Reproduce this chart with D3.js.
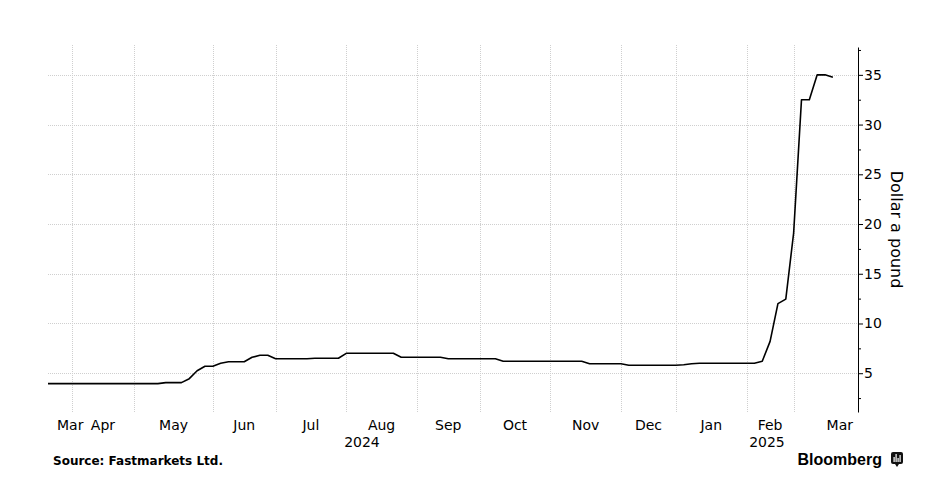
<!DOCTYPE html>
<html>
<head>
<meta charset="utf-8">
<title>Dollar a pound</title>
<style>
  body { margin: 0; background: #fff; }
  svg text { font-family: "DejaVu Sans", sans-serif; fill: #000; }
</style>
</head>
<body>
<script src="https://d3js.org/d3.v7.min.js"></script>
<script>
// price assessments (twice a week), Mar 2024 - Mar 2025
var dates = [
  "2024-03-20","2024-03-22","2024-03-27",
  "2024-04-03","2024-04-05","2024-04-10","2024-04-12","2024-04-17","2024-04-19","2024-04-24","2024-04-26",
  "2024-05-01","2024-05-03","2024-05-08","2024-05-10","2024-05-15","2024-05-17","2024-05-22","2024-05-24","2024-05-29","2024-05-31",
  "2024-06-05","2024-06-07","2024-06-12","2024-06-14","2024-06-19","2024-06-21","2024-06-26","2024-06-28",
  "2024-07-03","2024-07-05","2024-07-10","2024-07-12","2024-07-17","2024-07-19","2024-07-24","2024-07-26","2024-07-31",
  "2024-08-02","2024-08-07","2024-08-09","2024-08-14","2024-08-16","2024-08-21","2024-08-23","2024-08-28","2024-08-30",
  "2024-09-04","2024-09-06","2024-09-11","2024-09-13","2024-09-18","2024-09-20","2024-09-25","2024-09-27",
  "2024-10-02","2024-10-04","2024-10-09","2024-10-11","2024-10-16","2024-10-18","2024-10-23","2024-10-25","2024-10-30",
  "2024-11-01","2024-11-06","2024-11-08","2024-11-13","2024-11-15","2024-11-20","2024-11-22","2024-11-27","2024-11-29",
  "2024-12-04","2024-12-06","2024-12-11","2024-12-13","2024-12-18","2024-12-20","2024-12-27",
  "2025-01-03","2025-01-08","2025-01-10","2025-01-15","2025-01-17","2025-01-22","2025-01-24","2025-01-29","2025-01-31",
  "2025-02-05","2025-02-07","2025-02-12","2025-02-14","2025-02-19","2025-02-26",
  "2025-03-05","2025-03-07","2025-03-12","2025-03-14","2025-03-19","2025-03-21"
];
var prices = [
  3.95,3.95,3.95,3.95,3.95,3.95,3.95,3.95,3.95,3.95,3.95,3.95,3.95,3.95,3.95,
  4.05,4.05,4.05,4.45,5.25,5.7,5.7,6.0,6.15,6.15,6.15,6.6,6.8,6.8,
  6.45,6.45,6.45,6.45,6.45,6.5,6.5,6.5,6.5,
  7.0,7.0,7.0,7.0,7.0,7.0,7.0,
  6.6,6.6,6.6,6.6,6.6,6.6,
  6.45,6.45,6.45,6.45,6.45,6.45,6.45,
  6.2,6.2,6.2,6.2,6.2,6.2,6.2,6.2,6.2,6.2,6.2,
  5.95,5.95,5.95,5.95,5.95,
  5.8,5.8,5.8,5.8,5.8,5.8,5.8,5.85,5.95,
  6.0,6.0,6.0,6.0,6.0,6.0,6.0,6.0,
  6.2,8.2,12.0,12.45,19.1,32.5,32.5,35.0,35.0,34.75
];
var monthLabels = ["Mar","Apr","May","Jun","Jul","Aug","Sep","Oct","Nov","Dec","Jan","Feb","Mar"];
var yearLabels = ["2024","2025"];
var yTicks = [5,10,15,20,25,30,35];
var yMinor = [2.5,7.5,12.5,17.5,22.5,27.5,32.5,37.5];

var width = 948, height = 490;
var plotLeft = 48, plotRight = 858, plotTop = 47, plotBottom = 412;
var padSlots = 3.2;

var parse = d3.timeParse("%Y-%m-%d");
var data = dates.map(function(d, i) { return { date: parse(d), value: prices[i], i: i }; });

var x = d3.scaleLinear().domain([0, data.length - 1 + padSlots]).range([plotLeft, plotRight]);
var y = d3.scaleLinear().domain([1.1, 37.8]).range([plotBottom, plotTop]);

var svg = d3.select("body").append("svg")
  .attr("width", width)
  .attr("height", height);

// index where each month / year starts
var monthStarts = [], yearStarts = [];
data.forEach(function(d, i) {
  if (i == 0 || d.date.getMonth() != data[i-1].date.getMonth()) monthStarts.push(i);
  if (i == 0 || d.date.getFullYear() != data[i-1].date.getFullYear()) yearStarts.push(i);
});

// grid
var grid = svg.append("g")
  .attr("stroke", "#cfcfcf")
  .attr("stroke-width", 1)
  .attr("stroke-dasharray", "1,1");

grid.selectAll("line.h")
  .data(yTicks)
  .enter().append("line")
  .attr("x1", plotLeft).attr("x2", plotRight)
  .attr("y1", function(d) { return Math.round(y(d)) + 0.5; })
  .attr("y2", function(d) { return Math.round(y(d)) + 0.5; });

grid.selectAll("line.v")
  .data(monthStarts.slice(1))
  .enter().append("line")
  .attr("x1", function(d) { return Math.round(x(d)) + 0.5; })
  .attr("x2", function(d) { return Math.round(x(d)) + 0.5; })
  .attr("y1", plotTop - 2).attr("y2", plotBottom);

// price line
var line = d3.line()
  .x(function(d) { return x(d.i); })
  .y(function(d) { return y(d.value); });

svg.append("path")
  .datum(data)
  .attr("fill", "none")
  .attr("stroke", "#000")
  .attr("stroke-width", 1.6)
  .attr("stroke-linejoin", "round")
  .attr("d", line);

// right axis
var yAxis = svg.append("g")
  .attr("transform", "translate(" + plotRight + ",0)")
  .call(d3.axisRight(y).tickValues(yTicks).tickSize(5).tickSizeOuter(0).tickPadding(1));
yAxis.selectAll("text").attr("font-size", 14).attr("font-family", "DejaVu Sans, sans-serif");
yAxis.select(".domain").attr("stroke", "#000");

var yMinorAxis = svg.append("g")
  .attr("transform", "translate(" + plotRight + ",0)")
  .call(d3.axisRight(y).tickValues(yMinor).tickSize(3).tickFormat(""));
yMinorAxis.select(".domain").remove();

svg.append("text")
  .attr("transform", "translate(895," + ((plotTop + plotBottom) / 2) + ") rotate(90)")
  .attr("text-anchor", "middle")
  .attr("dominant-baseline", "middle")
  .attr("font-size", 16)
  .text("Dollar a pound");

// month labels
var n = monthStarts.length;
monthStarts.forEach(function(s, k) {
  var t = svg.append("text")
    .attr("y", 430)
    .attr("font-size", 14)
    .text(monthLabels[k]);
  if (k == 0) {
    t.attr("x", plotLeft + 9).attr("text-anchor", "start");
  } else if (k == n - 1) {
    t.attr("x", plotRight - 5).attr("text-anchor", "end");
  } else {
    t.attr("x", (x(s) + x(monthStarts[k+1])) / 2).attr("text-anchor", "middle");
  }
});

// year labels
yearStarts.forEach(function(s, k) {
  var x0 = k == 0 ? plotLeft : x(s);
  var x1 = k == yearStarts.length - 1 ? plotRight : x(yearStarts[k+1]);
  svg.append("text")
    .attr("x", (x0 + x1) / 2)
    .attr("y", 447)
    .attr("text-anchor", "middle")
    .attr("font-size", 14)
    .text(yearLabels[k]);
});

// footer
svg.append("text")
  .attr("x", 53)
  .attr("y", 465)
  .attr("font-size", 12)
  .attr("font-weight", "bold")
  .text("Source:  Fastmarkets Ltd.");

svg.append("text")
  .attr("x", 882)
  .attr("y", 465)
  .attr("text-anchor", "end")
  .attr("font-size", 16)
  .attr("font-weight", "bold")
  .style("font-family", "Liberation Sans, Arial, sans-serif")
  .text("Bloomberg");

var logo = svg.append("g").attr("transform", "translate(891,452)");
logo.append("rect").attr("width", 12).attr("height", 12).attr("rx", 2).attr("fill", "#111");
logo.append("path").attr("d", "M4,12 L6,15 L8,12 Z").attr("fill", "#111");
logo.selectAll("rect.bar")
  .data([5, 8, 4, 7])
  .enter().append("rect")
  .attr("x", function(d, i) { return 2.5 + i * 2; })
  .attr("y", function(d) { return 10 - d; })
  .attr("width", 1.2)
  .attr("height", function(d) { return d; })
  .attr("fill", "#fff");
</script>
</body>
</html>
